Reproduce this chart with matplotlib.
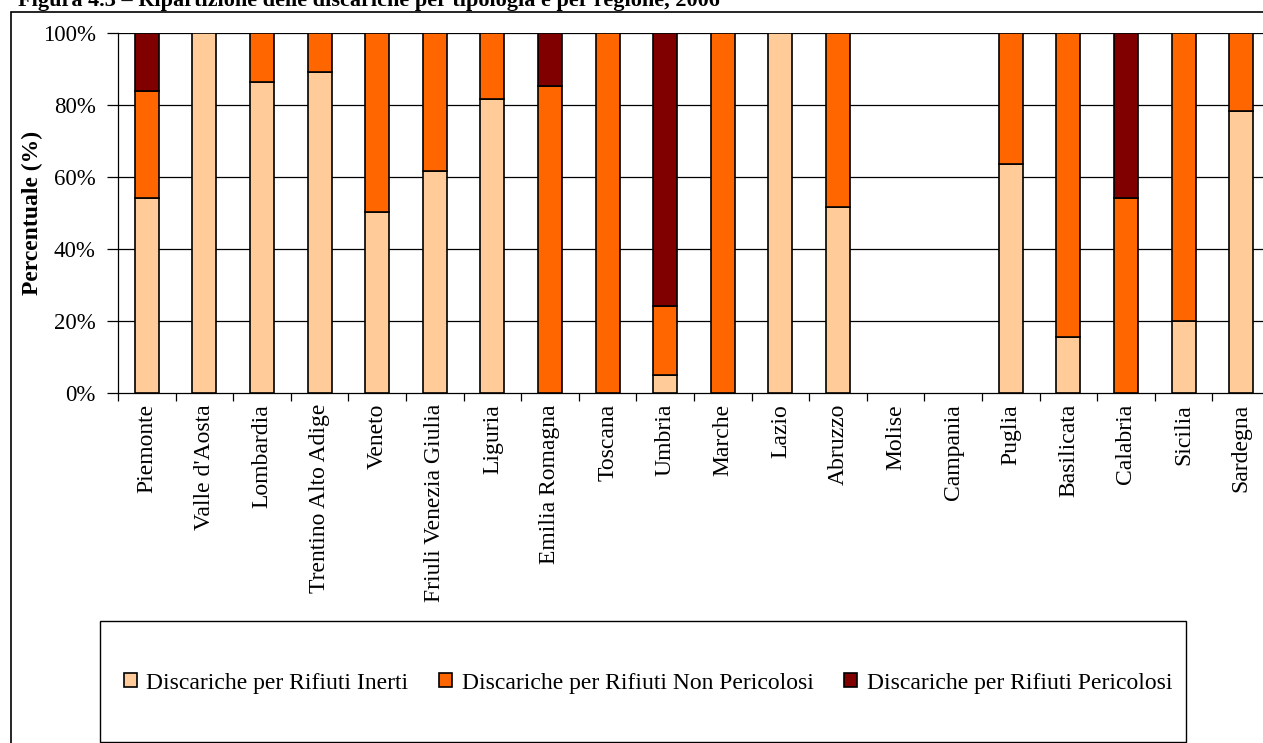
import matplotlib
matplotlib.use("Agg")
import matplotlib.pyplot as plt
import numpy as np
from matplotlib.patches import Rectangle, Patch

regions = ["Piemonte", "Valle d'Aosta", "Lombardia", "Trentino Alto Adige", "Veneto",
           "Friuli Venezia Giulia", "Liguria", "Emilia Romagna", "Toscana", "Umbria",
           "Marche", "Lazio", "Abruzzo", "Molise", "Campania", "Puglia", "Basilicata",
           "Calabria", "Sicilia", "Sardegna"]
inerti = [54.3, 100, 86.4, 89.1, 50.2, 61.6, 81.8, 0, 0, 5.1,
          0, 100, 51.7, 0, 0, 63.5, 15.5, 0, 20.1, 78.2]
non_pericolosi = [29.6, 0, 13.6, 10.9, 49.8, 38.4, 18.2, 85.3, 100, 19.1,
                  100, 0, 48.3, 0, 0, 36.5, 84.5, 54.3, 79.9, 21.8]
pericolosi = [16.1, 0, 0, 0, 0, 0, 0, 14.7, 0, 75.8,
              0, 0, 0, 0, 0, 0, 0, 45.7, 0, 0]
series_names = ["Discariche per Rifiuti Inerti", "Discariche per Rifiuti Non Pericolosi",
                "Discariche per Rifiuti Pericolosi"]
colors = ["#FFCC99", "#FF6600", "#800000"]
yticks = [0, 20, 40, 60, 80, 100]

plt.rcParams['font.family'] = ['Liberation Serif', 'DejaVu Serif']

W, H = 1263, 743
fig = plt.figure(figsize=(W / 100, H / 100), dpi=100)

# outer frame
fig.patches.append(Rectangle((11 / W, -0.1), 1.2, (1 - 12 / H) + 0.1, transform=fig.transFigure,
                             fill=False, edgecolor='black', linewidth=1.2))
# clipped title (only its lower part shows, as in the reference)
fig.text(18 / W, 1 - 1 / H, "Figura 4.3 \u2013 Ripartizione delle discariche per tipologia e per regione, 2006",
         fontsize=16, fontweight='bold', ha='left', va='center')

left, right, top, bottom = 118, 1270, 33, 393
ax = fig.add_axes([left / W, 1 - bottom / H, (right - left) / W, (bottom - top) / H])

x = np.arange(len(regions))
bw = 0.42
data = [inerti, non_pericolosi, pericolosi]
base = np.zeros(len(regions))
for vals, c in zip(data, colors):
    v = np.array(vals, dtype=float)
    mask = v > 0
    ax.bar(x[mask], v[mask], bw, bottom=base[mask], color=c, edgecolor='black', linewidth=1.2, zorder=3)
    base += v

ax.set_xlim(-0.5, len(regions) - 0.5)
ax.set_ylim(0, 100)
ax.set_yticks(yticks)
ax.set_yticklabels([f"{t}%" for t in yticks], fontsize=16.5)
for t in yticks[1:]:
    ax.axhline(t, color='black', linewidth=0.9, zorder=1)

ax.set_xticks(x)
ax.set_xticklabels(regions, rotation=90, fontsize=17)
ax.tick_params(axis='x', which='major', length=0, pad=8)
ax.set_xticks(np.arange(-0.5, len(regions) - 0.4, 1), minor=True)
ax.tick_params(axis='x', which='minor', length=6, width=0.9, color='black')
ax.tick_params(axis='y', length=8, width=0.9, pad=8)

for s in ['top', 'right']:
    ax.spines[s].set_visible(False)
ax.spines['left'].set_linewidth(0.9)
ax.spines['bottom'].set_linewidth(0.9)

ax.set_ylabel("Percentuale (%)", fontsize=17, fontweight='bold', labelpad=0)

# legend box
fig.patches.append(Rectangle((100 / W, 1 - 742 / H), (1186 - 100) / W, (742 - 621) / H,
                             transform=fig.transFigure, fill=False, edgecolor='black', linewidth=1.0))
handles = [Patch(facecolor=c, edgecolor='black', linewidth=1.2) for c in colors]
fig.legend(handles, series_names, loc='center', bbox_to_anchor=(648 / W, 1 - 683 / H),
           ncol=3, frameon=False, fontsize=17, handlelength=0.55, handleheight=0.55,
           handletextpad=0.4, columnspacing=1.3, borderpad=0)

fig.savefig("out.png", dpi=100)
